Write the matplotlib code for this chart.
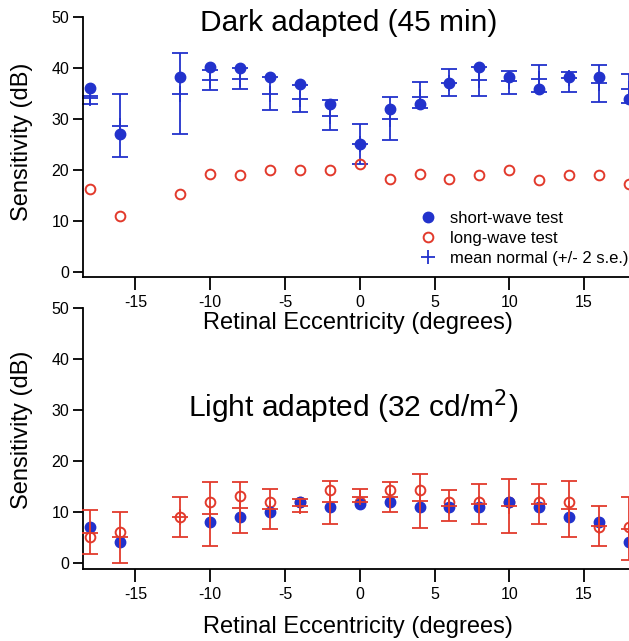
import numpy as np
import matplotlib
matplotlib.use('Agg')
import matplotlib.pyplot as plt
from matplotlib.lines import Line2D
from matplotlib.ticker import FuncFormatter

plt.rcParams['font.family'] = ['Liberation Sans', 'DejaVu Sans']

# retinal eccentricity (degrees) -- no test at -14
ecc = [-18, -16, -12, -10, -8, -6, -4, -2, 0, 2, 4, 6, 8, 10, 12, 14, 16, 18]

# dark adapted (45 min)
dark_sw = [36, 27, 38.2, 40.2, 40, 38.2, 36.8, 33, 25, 32, 33, 37, 40.2, 38.2, 35.9, 38.2, 38.3, 33.9]
dark_lw = [16.2, 11, 15.3, 19.2, 19, 20, 20, 20, 21.2, 18.2, 19.2, 18.2, 19, 20, 18, 19, 19, 17.2]
dark_norm = [34.1, 28.7, 34.9, 37.6, 37.9, 34.9, 33.9, 30.6, 25, 30, 34.4, 37, 37.6, 37.5, 37.8, 38, 37, 35.9]
dark_norm_lo = [33, 22.5, 27, 35.6, 35.9, 31.7, 31.3, 27.8, 21.2, 25.8, 32.1, 34.5, 34.5, 34.9, 35.2, 35.3, 33.3, 33.1]
dark_norm_hi = [34.6, 34.9, 42.9, 39.6, 40, 38.3, 36.6, 33.7, 29, 34.3, 37.3, 39.8, 40.2, 39.4, 40.5, 39.2, 40.5, 38.8]

# light adapted (32 cd/m2)
light_ecc_sw = [-18, -16, -10, -8, -6, -4, -2, 0, 2, 4, 6, 8, 10, 12, 14, 16, 18]
light_sw = [7, 4, 8, 9, 10, 12, 11, 11.6, 12, 11, 11, 11, 12, 11, 9, 8, 4]
light_lw = [5, 6, 9, 12, 13.2, 12, 12, 14.2, 12, 14.2, 14.2, 12, 12, 12, 12, 12, 7, 7]
light_norm = [5.9, 5, 9, 9.6, 10.8, 10.5, 11.2, 12, 13, 12.9, 12.2, 11.2, 11.5, 11.2, 11.5, 10.5, 7.3, 6.7]
light_norm_lo = [1.7, 0, 5, 3.3, 5.9, 6.6, 9.9, 7.6, 11.9, 9.9, 6.9, 8.2, 7.6, 5.9, 7.6, 5, 3.3, 0.5]
light_norm_hi = [10.3, 9.9, 12.9, 15.8, 15.8, 14.5, 12.5, 16.1, 14.5, 15.8, 17.4, 14.2, 15.5, 16.5, 15.5, 16.1, 11.2, 12.9]

BLUE = '#2232cc'
RED = '#e23a2c'

W, H = 629, 641
fig = plt.figure(figsize=(W / 100, H / 100), dpi=100)


def px_axes(x0, y0, x1, y1):
    return fig.add_axes([x0 / W, 1 - y1 / H, (x1 - x0) / W, (y1 - y0) / H])


def px_text(x, y, s, **kw):
    # text placed by pixel position measured from the top-left corner
    return fig.text(x / W, 1 - y / H, s, ha='center', va='center', **kw)


def style_axes(ax, ymin):
    ax.set_xlim(-18.5, 18)
    ax.set_ylim(ymin, 50)
    for s in ['top', 'right']:
        ax.spines[s].set_visible(False)
    for s in ['left', 'bottom']:
        ax.spines[s].set_linewidth(1.3)
    ax.set_xticks([-15, -10, -5, 0, 5, 10, 15])
    ax.set_yticks([0, 10, 20, 30, 40, 50])
    ax.xaxis.set_major_formatter(FuncFormatter(lambda v, p: '%d' % v))
    ax.tick_params(axis='x', length=9, width=1.3, pad=4, labelsize=11.5)
    ax.tick_params(axis='y', length=7, width=1.3, pad=3, labelsize=11.5)


# top panel: dark adapted
ax1 = px_axes(83, 17, 629, 277)
style_axes(ax1, -1)
ecc_a = np.array(ecc)
norm = np.array(dark_norm)
ax1.errorbar(ecc_a, norm, yerr=[norm - np.array(dark_norm_lo), np.array(dark_norm_hi) - norm],
             fmt='+', color=BLUE, ecolor=BLUE, elinewidth=1.3, capsize=5.5, capthick=1.3,
             markersize=11, markeredgewidth=1.3, clip_on=False, zorder=2)
ax1.plot(ecc, dark_sw, 'o', color=BLUE, markersize=7.5, clip_on=False, zorder=3)
ax1.plot(ecc, dark_lw, 'o', mfc='none', mec=RED, markersize=7, markeredgewidth=1.4,
         clip_on=False, zorder=3)

handles = [
    Line2D([], [], ls='none', marker='o', color=BLUE, markersize=7.5),
    Line2D([], [], ls='none', marker='o', mfc='none', mec=RED, markersize=7, markeredgewidth=1.4),
    Line2D([], [], ls='none', marker='+', color=BLUE, markersize=10, markeredgewidth=1.3),
]
ax1.legend(handles, ['short-wave test', 'long-wave test', 'mean normal (+/- 2 s.e.)'],
           loc='upper left', bbox_to_anchor=(0.617, 0.255), frameon=False,
           handlelength=1.0, handletextpad=0.8, borderpad=0, borderaxespad=0,
           labelspacing=0.3, fontsize=12)

# bottom panel: light adapted
ax2 = px_axes(83, 308, 629, 569)
style_axes(ax2, -1.2)
norm2 = np.array(light_norm)
ax2.plot(ecc, light_lw, 'o', mfc='none', mec=RED, markersize=7, markeredgewidth=1.4,
         clip_on=False, zorder=1)
ax2.plot(light_ecc_sw, light_sw, 'o', color=BLUE, markersize=7.5, clip_on=False, zorder=2)
ax2.errorbar(ecc_a, norm2, yerr=[norm2 - np.array(light_norm_lo), np.array(light_norm_hi) - norm2],
             fmt='+', color=RED, ecolor=RED, elinewidth=1.3, capsize=5.5, capthick=1.3,
             markersize=11, markeredgewidth=1.3, clip_on=False, zorder=3)

# titles and axis labels
px_text(349, 23, 'Dark adapted (45 min)', fontsize=21.5)
px_text(353, 407, 'Light adapted (32 cd/m$^2$)', fontsize=21.5)
px_text(22, 142, 'Sensitivity (dB)', fontsize=17, rotation=90)
px_text(22, 430, 'Sensitivity (dB)', fontsize=17, rotation=90)
px_text(358, 323, 'Retinal Eccentricity (degrees)', fontsize=17)
px_text(358, 627, 'Retinal Eccentricity (degrees)', fontsize=17)

fig.savefig('out.png', dpi=100)
